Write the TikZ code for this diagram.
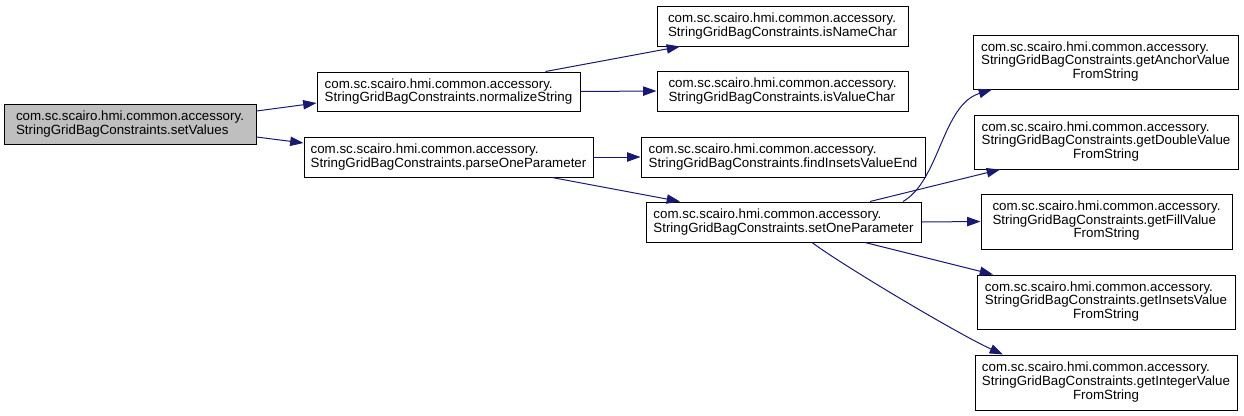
\documentclass[tikz,border=0pt]{standalone}
\usepackage{fontspec}
\setmainfont{Liberation Sans}
\usetikzlibrary{arrows.meta}
\definecolor{edgec}{HTML}{191970}
\definecolor{nodegray}{HTML}{BFBFBF}
\begin{document}
\begin{tikzpicture}[x=0.75pt,y=-0.75pt,
  fn/.style={draw=black,line width=0.75pt,fill=white,inner sep=0pt,font=\fontsize{10}{10}\selectfont,align=left},
  cur/.style={fn,fill=nodegray},
  call/.style={draw=edgec,line width=0.75pt,-{Triangle[length=10pt,width=7pt]},fill=none}]
\useasboundingbox (0,0) rectangle (1244,415);
\newcommand{\threel}[2]{\begin{tabular}{@{}l@{}}#1\\#2\\\multicolumn{1}{@{}c@{}}{FromString}\end{tabular}}
\renewcommand{\arraystretch}{1}
\setlength{\tabcolsep}{0pt}

\node[cur,minimum width=189pt,minimum height=30pt] (setValues) at (130,124)
  {com.sc.scairo.hmi.common.accessory.\\StringGridBagConstraints.setValues};
\node[fn,minimum width=197.25pt,minimum height=29.25pt] (normalize) at (448.5,91.5)
  {com.sc.scairo.hmi.common.accessory.\\StringGridBagConstraints.normalizeString};
\node[fn,minimum width=216.75pt,minimum height=30pt] (parseOne) at (448.5,157)
  {com.sc.scairo.hmi.common.accessory.\\StringGridBagConstraints.parseOneParameter};
\node[fn,minimum width=188.25pt,minimum height=30pt] (isName) at (782.5,26)
  {com.sc.scairo.hmi.common.accessory.\\StringGridBagConstraints.isNameChar};
\node[fn,minimum width=188.25pt,minimum height=30pt] (isValue) at (782.5,91)
  {com.sc.scairo.hmi.common.accessory.\\StringGridBagConstraints.isValueChar};
\node[fn,minimum width=213pt,minimum height=30pt] (findInsets) at (783,157)
  {com.sc.scairo.hmi.common.accessory.\\StringGridBagConstraints.findInsetsValueEnd};
\node[fn,minimum width=206.25pt,minimum height=30pt] (setOne) at (783.5,222)
  {com.sc.scairo.hmi.common.accessory.\\StringGridBagConstraints.setOneParameter};
\node[fn,minimum width=198.75pt,minimum height=40.5pt] (getAnchor) at (1105.5,62)
  {\threel{com.sc.scairo.hmi.common.accessory.}{StringGridBagConstraints.getAnchorValue}};
\node[fn,minimum width=198pt,minimum height=40.5pt] (getDouble) at (1106,142)
  {\threel{com.sc.scairo.hmi.common.accessory.}{StringGridBagConstraints.getDoubleValue}};
\node[fn,minimum width=188.25pt,minimum height=41.25pt] (getFill) at (1106.5,221.5)
  {\threel{com.sc.scairo.hmi.common.accessory.}{StringGridBagConstraints.getFillValue}};
\node[fn,minimum width=193.5pt,minimum height=40.5pt] (getInsets) at (1106,302)
  {\threel{com.sc.scairo.hmi.common.accessory.}{StringGridBagConstraints.getInsetsValue}};
\node[fn,minimum width=196.5pt,minimum height=41.25pt] (getInteger) at (1106,382.5)
  {\threel{com.sc.scairo.hmi.common.accessory.}{StringGridBagConstraints.getIntegerValue}};

\draw[call] ([shift={(0,-13)}]setValues.east) -- ([shift={(0,11.5)}]normalize.west);
\draw[call] ([shift={(0,13)}]setValues.east) -- ([shift={(0,-14)}]parseOne.west);
\draw[call] ([shift={(97,0)}]normalize.north) -- ([shift={(-102.5,0)}]isName.south);
\draw[call] (normalize.east) -- (isValue.west);
\draw[call] (parseOne.east) -- (findInsets.west);
\draw[call] ([shift={(103.5,0)}]parseOne.south) -- ([shift={(-103.5,0)}]setOne.north);
\draw[call] ([shift={(119.5,0)}]setOne.north) .. controls (940,180) and (942,105) .. ([shift={(-113.5,0)}]getAnchor.south);
\draw[call] ([shift={(86.5,0)}]setOne.north) -- ([shift={(-106,0)}]getDouble.south);
\draw[call] (setOne.east) -- (getFill.west);
\draw[call] ([shift={(81.5,0)}]setOne.south) -- ([shift={(-113,0)}]getInsets.north);
\draw[call] ([shift={(28.5,0)}]setOne.south) .. controls (845,267) and (960,335) .. ([shift={(-103,0)}]getInteger.north);
\end{tikzpicture}
\end{document}
